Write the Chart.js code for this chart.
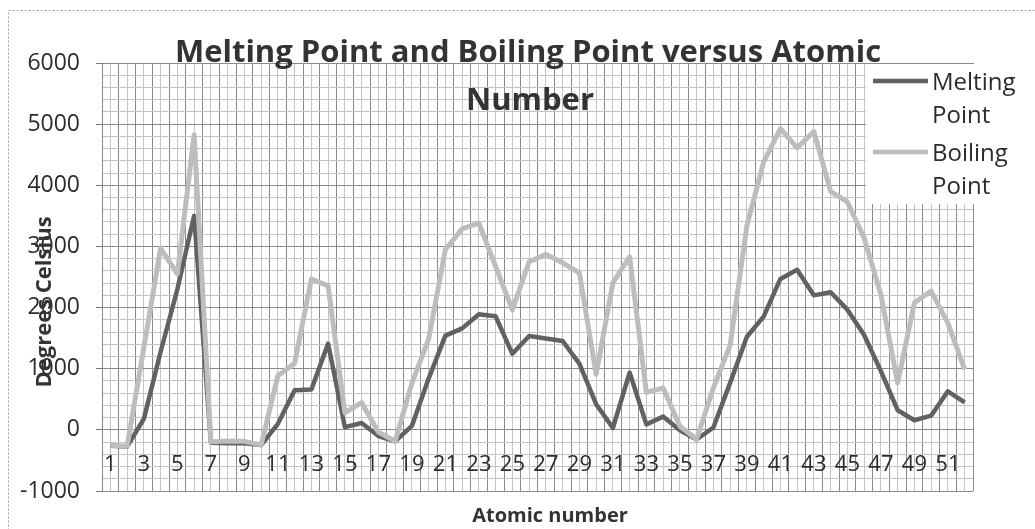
<!DOCTYPE html>
<html>
<head>
<meta charset="utf-8">
<title>Melting Point and Boiling Point versus Atomic Number</title>
<script src="https://cdn.jsdelivr.net/npm/chart.js@4.4.1/dist/chart.umd.min.js"></script>
<style>
  html, body { margin: 0; padding: 0; background: #fff; }
  #wrap { position: relative; width: 1035px; height: 529px; }
</style>
</head>
<body>
<div id="wrap"><canvas id="chart"></canvas></div>
<script>
// values (degrees Celsius)
const atomicNumbers = [
  1, 2, 3, 4, 5, 6, 7, 8, 9, 10, 11, 12, 13, 14, 15, 16, 17, 18, 19, 20,
  21, 22, 23, 24, 25, 26, 27, 28, 29, 30, 31, 32, 33, 34, 35, 36, 37, 38, 39, 40,
  41, 42, 43, 44, 45, 46, 47, 48, 49, 50, 51, 52,
];
const meltingPoint = [
  -259, -272, 179, 1278, 2300, 3500, -210, -218, -220, -249,
  98, 649, 660, 1410, 44, 113, -101, -189, 64, 839,
  1541, 1660, 1890, 1857, 1244, 1535, 1495, 1453, 1083, 420,
  30, 937, 90, 217, -7, -157, 39, 769, 1522, 1852,
  2468, 2617, 2200, 2250, 1966, 1552, 962, 321, 157, 232,
  631, 450,
];
const boilingPoint = [
  -253, -269, 1347, 2970, 2550, 4827, -196, -183, -188, -246,
  883, 1090, 2467, 2355, 280, 445, -35, -186, 760, 1484,
  2950, 3287, 3380, 2672, 1962, 2750, 2870, 2732, 2567, 907,
  2403, 2830, 613, 685, 59, -152, 688, 1384, 3338, 4377,
  4927, 4612, 4877, 3900, 3727, 3140, 2212, 765, 2080, 2270,
  1750, 990,
];
const yMin = -1000;
const yMax = 6000;
const yMajor = 1000;
const yMinor = 200;

const seriesNames = ['Melting Point', 'Boiling Point'];
const titleLines = ['Melting Point and Boiling Point versus Atomic', 'Number'];

const FONT = "'Open Sans', sans-serif";
const TEXT = '#2c2c2c';
const MELT_COLOR = '#616161';
const BOIL_COLOR = '#bdbdbd';
const GRID_MAJOR = '#8a8a8a';
const GRID_MINOR = '#c4c4c4';

Chart.defaults.font.family = FONT;
Chart.defaults.color = TEXT;

// title, axis titles, legend and frame are drawn over the plot like the Excel original
const overlayText = {
  id: 'overlayText',
  beforeDraw(chart) {
    const { ctx } = chart;
    ctx.save();
    ctx.strokeStyle = '#a0a0a0';
    ctx.lineWidth = 1;
    ctx.setLineDash([2, 2]);
    ctx.strokeRect(8.5, 10.5, 1200, 700);
    ctx.restore();
  },
  afterDraw(chart) {
    const { ctx, chartArea } = chart;
    ctx.save();

    // legend
    const lx = 866;
    ctx.fillStyle = '#fff';
    ctx.fillRect(lx, chartArea.top + 1, chartArea.right - lx + 1, 140);
    const rows = [
      { color: MELT_COLOR, y: 81, words: ['Melting', 'Point'] },
      { color: BOIL_COLOR, y: 152, words: ['Boiling', 'Point'] },
    ];
    ctx.font = `24px ${FONT}`;
    ctx.textAlign = 'left';
    ctx.textBaseline = 'alphabetic';
    rows.forEach((r) => {
      ctx.strokeStyle = r.color;
      ctx.lineWidth = 4.5;
      ctx.beginPath();
      ctx.moveTo(873, r.y);
      ctx.lineTo(928, r.y);
      ctx.stroke();
      ctx.fillStyle = TEXT;
      ctx.fillText(r.words[0], 932, r.y + 9);
      ctx.fillText(r.words[1], 932, r.y + 42);
    });

    // chart title
    ctx.fillStyle = '#333';
    ctx.font = `bold 31px ${FONT}`;
    ctx.textAlign = 'center';
    ctx.fillText(titleLines[0], 528, 62);
    ctx.fillText(titleLines[1], 530, 110);

    // axis titles
    ctx.font = `bold 20px ${FONT}`;
    ctx.fillText('Atomic number', 550, 522);
    ctx.font = `bold 22px ${FONT}`;
    ctx.translate(51, 302);
    ctx.rotate(-Math.PI / 2);
    ctx.fillText('Degrees Celsius', 0, 0);

    ctx.restore();
  },
};

new Chart(document.getElementById('chart'), {
  type: 'line',
  data: {
    labels: atomicNumbers,
    datasets: [
      {
        label: seriesNames[0],
        data: meltingPoint,
        borderColor: MELT_COLOR,
        borderWidth: 4.5,
        pointRadius: 0,
        tension: 0,
        borderJoinStyle: 'round',
        order: 1,
      },
      {
        label: seriesNames[1],
        data: boilingPoint,
        borderColor: BOIL_COLOR,
        borderWidth: 5,
        pointRadius: 0,
        tension: 0,
        borderJoinStyle: 'round',
        order: 0,
      },
    ],
  },
  options: {
    responsive: true,
    maintainAspectRatio: false,
    animation: false,
    layout: { padding: { left: 0, top: 63, right: 62, bottom: 38 } },
    plugins: {
      legend: { display: false },
      title: { display: false },
      tooltip: { enabled: false },
    },
    scales: {
      // category axis crosses the value axis at 0, as in Excel
      x: {
        type: 'category',
        position: { y: 0 },
        offset: true,
        grid: { display: false, drawTicks: false },
        border: { display: false },
        ticks: {
          autoSkip: false,
          maxRotation: 0,
          padding: 22,
          color: TEXT,
          font: { size: 22 },
          callback: (v, i) => (i % 2 === 0 ? String(atomicNumbers[i]) : ''),
        },
      },
      xGrid: {
        type: 'linear',
        axis: 'x',
        position: 'bottom',
        min: 0,
        max: atomicNumbers.length,
        grid: {
          drawTicks: false,
          color: (c) => (c.tick && Number.isInteger(c.tick.value) ? GRID_MAJOR : GRID_MINOR),
        },
        border: { display: false },
        ticks: { display: false, stepSize: 0.5, autoSkip: false, maxTicksLimit: 500 },
        afterFit: (scale) => { scale.height = 0; },
      },
      y: {
        min: yMin,
        max: yMax,
        grid: {
          tickLength: 6,
          color: (c) => (c.tick && c.tick.value % yMajor === 0 ? GRID_MAJOR : GRID_MINOR),
          tickColor: (c) => (c.tick && c.tick.value % yMajor === 0 ? '#777' : 'rgba(0,0,0,0)'),
        },
        border: { display: true, color: GRID_MAJOR },
        ticks: {
          stepSize: yMinor,
          maxTicksLimit: 100,
          autoSkip: false,
          padding: 16,
          color: TEXT,
          font: { size: 23 },
          callback: (v) => (v % yMajor === 0 ? v : ''),
        },
        afterFit: (scale) => { scale.width = 102; },
      },
    },
  },
  plugins: [overlayText],
});
</script>
</body>
</html>
